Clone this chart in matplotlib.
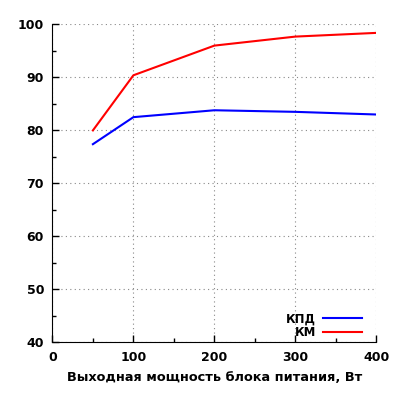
import matplotlib
matplotlib.use("Agg")
import matplotlib.pyplot as plt
from matplotlib.ticker import MultipleLocator

# data
power = [50, 100, 200, 300, 400]
kpd = [77.4, 82.5, 83.8, 83.5, 83.0]
km = [80.0, 90.4, 96.0, 97.7, 98.4]

plt.rcParams["font.family"] = "DejaVu Sans"
plt.rcParams["font.weight"] = "bold"

fig = plt.figure(figsize=(4, 4), dpi=100)
ax = fig.add_axes([0.131, 0.144, 0.81, 0.795])

ax.plot(power, kpd, color="#0000ff", lw=1.5, label="КПД")
ax.plot(power, km, color="#ff0000", lw=1.5, label="КМ")

ax.set_xlim(0, 400)
ax.set_ylim(40, 100)
ax.xaxis.set_major_locator(MultipleLocator(100))
ax.xaxis.set_minor_locator(MultipleLocator(50))
ax.yaxis.set_major_locator(MultipleLocator(10))
ax.yaxis.set_minor_locator(MultipleLocator(5))
ax.tick_params(which="both", direction="in", labelsize=9, width=1)
ax.tick_params(axis="x", which="major", pad=6)
ax.tick_params(axis="y", which="major", pad=6)
ax.tick_params(which="major", length=5)
ax.tick_params(which="minor", length=3)
ax.grid(True, which="major", linestyle=(0, (1, 3)), color="#888888", lw=0.8)

for s in ["top", "right"]:
    ax.spines[s].set_visible(False)

ax.set_xlabel("Выходная мощность блока питания, Вт", fontsize=9.3,
              fontweight="bold", labelpad=5)

ax.legend(loc="lower right", bbox_to_anchor=(0.975, -0.008), frameon=False,
          markerfirst=False, fontsize=8.5, handlelength=3.3, handletextpad=0.6,
          labelspacing=0.05, borderaxespad=0.3, borderpad=0.2)

fig.savefig("out.png")
